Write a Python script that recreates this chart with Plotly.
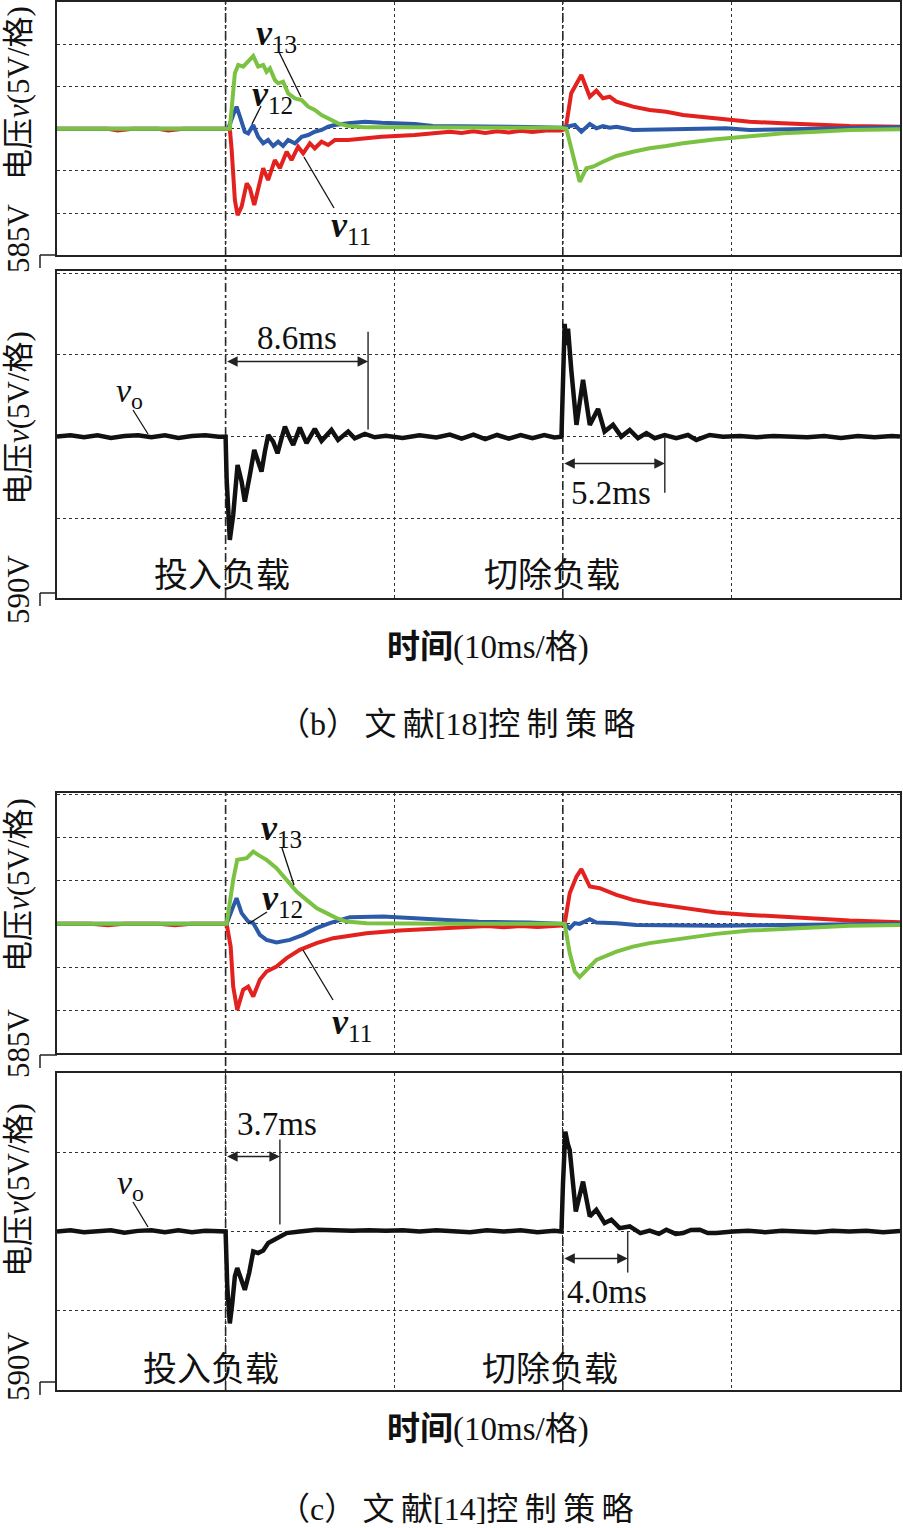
import plotly.graph_objects as go

W, H = 903, 1528
SERIF = "Liberation Serif, Noto Sans CJK SC, serif"
RED, BLUE, GREEN, BLACK = "#e3211f", "#2c5aa8", "#7cc242", "#111111"

# ---------------- (b) 文献[18] : time in ms, voltage deviation in V ----------------
b_t_v11 = [0, 1.5, 3.0, 3.6, 4.5, 6.0, 6.6, 7.5, 9.0, 10.0, 10.25, 10.36, 10.55, 10.71, 10.95, 11.25, 11.44, 11.70,
           11.93, 12.23, 12.52, 12.92, 13.22, 13.62, 13.91, 14.30, 14.60, 15.00, 15.29, 15.69, 16.08, 16.48, 17.27,
           18.26, 19.25, 21.22, 22.29, 23.3, 24.0, 24.7, 25.4, 26.1, 26.8, 27.5, 28.2, 29.0, 29.9, 30.17, 30.5, 31.10,
           31.60, 31.99, 32.38, 32.78, 33.18, 34.16, 35.15, 36.14, 37.13, 39.10, 41.08, 43.05, 45.03, 47.0, 50.0]
b_v11 = [0, 0, 0, -0.2, 0, 0, -0.2, 0, 0, 0, 0, -2.52, -8.45, -10.23, -9.24, -6.47, -7.06, -9.04, -7.26, -4.69, -6.08,
         -3.71, -4.69, -2.73, -3.71, -2.13, -2.91, -1.73, -2.32, -1.54, -1.93, -1.34, -1.34, -1.14, -0.95, -0.75, -0.55,
         -0.35, -0.5, -0.3, -0.5, -0.3, -0.45, -0.25, -0.4, -0.2, -0.2, 0, 4.2, 6.36, 3.79, 4.50, 3.60, 3.79, 3.20, 2.61,
         2.22, 2.01, 1.62, 1.23, 0.83, 0.64, 0.44, 0.32, 0.24]

b_t_v12 = [0, 3, 6, 9, 10.0, 10.15, 10.45, 10.65, 10.85, 11.14, 11.34, 11.64, 11.93, 12.23, 12.52, 12.82, 13.12, 13.41,
           13.71, 14.11, 14.51, 14.90, 15.29, 15.69, 16.08, 16.48, 17.27, 18.26, 19.25, 21.22, 22.29, 24.0, 26.0, 28.0,
           29.9, 30.29, 30.71, 31.10, 31.60, 31.99, 32.38, 32.78, 33.18, 34.16, 37.13, 39.70, 41.08, 47.0, 50.0]
b_v12 = [0, 0, 0, 0, 0, 0, 1.61, 2.61, 1.42, -0.36, -0.55, 0.44, -0.95, -1.73, -1.34, -2.05, -1.54, -2.05, -1.34, -1.73,
         -0.95, -0.75, -0.36, -0.15, 0.24, 0.44, 0.64, 0.83, 0.71, 0.56, 0.32, 0.3, 0.25, 0.2, 0.1, 0.24, 0.44, -0.36,
         0.56, 0.05, 0.32, 0.12, 0.24, -0.15, -0.07, 0.05, -0.15, 0.05, 0.17]

b_t_v13 = [0, 3, 6, 9, 10.0, 10.25, 10.55, 10.75, 11.04, 11.34, 11.64, 11.93, 12.23, 12.43, 12.63, 12.92, 13.12, 13.41,
           13.71, 14.11, 14.51, 14.90, 15.29, 15.69, 16.08, 16.67, 17.27, 18.26, 21.22, 25.0, 29.9, 30.21, 31.0, 31.40,
           31.79, 32.38, 33.18, 34.16, 35.15, 36.14, 37.13, 39.10, 41.08, 43.05, 45.03, 47.0, 50.0]
b_v13 = [0, 0, 0, 0, 0, 0, 6.56, 7.55, 7.35, 7.94, 8.61, 7.35, 7.55, 6.75, 7.16, 5.77, 5.38, 5.57, 4.19, 3.60, 3.40,
         2.61, 2.22, 1.62, 1.23, 0.64, 0.32, 0.17, 0.17, 0.15, 0.1, 0, -6.28, -4.69, -4.50, -3.91, -3.23, -2.73, -2.32,
         -2.05, -1.73, -1.26, -0.86, -0.55, -0.36, -0.15, -0.07]

b_t_vo = [0, 0.8, 1.6, 2.4, 3.2, 4.0, 4.8, 5.6, 6.4, 7.2, 8.0, 8.8, 9.6,
          10.0, 10.06, 10.15, 10.25, 10.45, 10.71, 10.95, 11.14, 11.44, 11.70, 11.93, 12.13, 12.33, 12.53, 12.82, 13.08,
          13.32, 13.52, 13.81, 14.01, 14.40, 14.80, 15.29, 15.69, 16.28, 16.67, 17.27, 17.66, 18.26, 18.85,
          19.5, 20.5, 21.5, 22.5, 23.3, 24.0, 24.7, 25.4, 26.1, 26.8, 27.5, 28.2, 28.9, 29.5,
          29.92, 30.01, 30.11, 30.21, 30.31, 30.51, 30.81, 31.20, 31.60, 32.09, 32.48, 32.98, 33.47, 33.97, 34.46, 34.96,
          35.45, 36.04, 36.73, 37.42, 37.92, 38.71, 39.50,
          40.5, 41.5, 42.5, 43.5, 44.5, 45.5, 46.5, 47.5, 48.5, 49.5, 50.0]
b_vo = [0, 0.08, -0.04, 0.08, -0.08, 0.04, 0.08, -0.04, 0.08, -0.08, 0.04, 0.08, 0,
        0, -2.54, -4.79, -6.32, -4.79, -1.73, -2.75, -3.98, -2.34, -0.81, -1.53, -2.14, -0.92, 0.10, -0.31, -1.02,
        -0.10, 0.61, -0.10, -0.51, 0.55, -0.40, 0.47, -0.26, 0.41, -0.20, 0.31, -0.10, 0.17, -0.04,
        0.05, -0.08, 0.08, -0.05, 0.12, -0.12, 0.12, -0.15, 0.1, -0.12, 0.1, -0.1, 0.1, -0.05,
        0, 3.0, 6.9, 5.6, 6.6, 4.0, 0.72, 3.47, 0.72, 1.69, 0.31, 0.72, 0.0, 0.41, -0.10, 0.21, -0.10, 0.10, -0.10,
        0.10, -0.20, 0.10, 0,
        0.04, -0.04, 0.04, 0, -0.04, 0.04, -0.08, 0.04, -0.04, 0.04, 0]

# ---------------- (c) 文献[14] ----------------
c_t_v11 = [0, 2, 3, 4, 6, 7, 8, 10.0, 10.06, 10.30, 10.45, 10.69, 11.04, 11.34, 11.64, 12.03, 12.43, 13.02, 13.62, 14.40,
           15.39, 16.38, 18.36, 20.33, 23.30, 24.5, 25.5, 26.5, 27.5, 28.5, 29.9, 30.11, 30.41, 30.81, 31.10, 31.60,
           32.19, 33.18, 34.16, 35.15, 37.13, 39.10, 41.08, 43.05, 45.03, 47.0, 50.0]
c_v11 = [0, 0, -0.15, 0, 0, -0.15, 0, 0, 0, -2.63, -7.26, -9.95, -7.64, -7.26, -8.41, -6.48, -5.52, -4.94, -3.97, -3.01,
         -2.23, -1.66, -1.08, -0.78, -0.50, -0.35, -0.25, -0.4, -0.25, -0.35, -0.2, 0, 3.55, 5.47, 6.33, 4.32, 4.13,
         3.36, 2.78, 2.40, 1.82, 1.31, 1.04, 0.84, 0.66, 0.38, 0.20]

c_t_v12 = [0, 3, 6, 9, 10.0, 10.06, 10.45, 10.65, 10.95, 11.34, 11.64, 12.03, 12.43, 13.02, 13.81, 14.60, 15.39, 16.18,
           17.37, 19.34, 22.31, 25.0, 28.0, 29.9, 30.11, 30.41, 30.71, 31.0, 31.60, 31.99, 33.18, 34.36, 39.10, 43.05,
           50.0]
c_v12 = [0, 0, 0, 0, 0, 0, 2.0, 2.97, 1.24, 0.27, 0.08, -1.27, -1.85, -2.16, -1.85, -1.27, -0.50, 0.08, 0.78, 0.84,
         0.54, 0.25, 0.15, 0.1, 0, -0.5, 0.08, 0.0, 0.54, 0.15, 0.08, -0.12, -0.23, -0.12, 0]

c_t_v13 = [0, 3, 6, 9, 10.0, 10.06, 10.45, 10.69, 11.25, 11.64, 11.93, 12.43, 13.02, 13.62, 14.21, 14.80, 15.39, 15.99,
           16.58, 17.17, 18.36, 23.30, 29.9, 30.11, 30.41, 30.71, 31.0, 31.40, 31.99, 33.18, 34.16, 35.15, 37.13, 39.10,
           41.08, 43.05, 45.03, 47.0, 50.0]
c_v13 = [0, 0, 0, 0, 0, 0, 5.09, 7.41, 7.60, 8.37, 7.99, 7.41, 6.45, 5.09, 3.74, 2.78, 1.82, 1.24, 0.66, 0.27, 0.08, 0,
         0, 0, -3.39, -5.52, -6.17, -5.32, -4.17, -3.21, -2.63, -2.23, -1.66, -1.16, -0.78, -0.61, -0.43, -0.23, -0.12]

c_t_vo = [0, 0.8, 1.6, 2.4, 3.2, 4.0, 4.8, 5.6, 6.4, 7.2, 8.0, 8.8, 9.6,
          10.0, 10.1, 10.25, 10.4, 10.55, 10.69, 10.9, 11.14, 11.4, 11.64, 11.93, 12.23, 12.53, 13.02, 13.62, 14.40,
          15.39,
          16.5, 17.5, 18.5, 19.5, 20.5, 21.5, 22.5, 23.5, 24.5, 25.5, 26.5, 27.5, 28.5, 29.5,
          29.92, 30.01, 30.15, 30.3, 30.41, 30.77, 31.20, 31.60, 31.99, 32.48, 32.88, 33.37, 33.97, 34.6, 35.15, 35.7,
          36.14, 36.7, 37.13, 37.6, 38.12, 38.6, 39.10, 40.09,
          41.0, 42.0, 43.0, 44.0, 45.0, 46.0, 47.0, 48.0, 49.0, 50.0]
c_vo = [0, 0.08, -0.04, 0.04, 0.08, -0.08, 0.04, 0.08, -0.04, 0.08, -0.04, 0.04, 0,
        0, -3.5, -5.8, -4.5, -2.84, -2.31, -3.0, -3.68, -2.6, -1.26, -1.36, -1.2, -0.73, -0.42, -0.10, 0.0, 0.11,
        0.08, 0.04, 0.08, 0.04, 0.08, 0, 0.08, 0.04, -0.04, 0.08, 0, 0.08, -0.04, 0.04,
        0, 3.0, 6.3, 5.5, 5.15, 1.26, 3.15, 0.95, 1.37, 0.53, 0.74, 0.21, 0.32, -0.1, 0.06, -0.15, 0.11, -0.15, -0.10,
        0.1, 0.11, -0.1, -0.10, 0,
        0.04, -0.04, 0.04, 0, -0.04, 0.04, 0, 0.04, -0.04, 0.04]

# settling-time markers (ms)
b_on_settle, b_off_settle = 18.45, 36.05
c_on_settle, c_off_settle = 13.22, 33.85
t_on, t_off = 10.0, 30.0

for a, b in [(b_t_v11, b_v11), (b_t_v12, b_v12), (b_t_v13, b_v13), (b_t_vo, b_vo),
             (c_t_v11, c_v11), (c_t_v12, c_v12), (c_t_v13, c_v13), (c_t_vo, c_vo)]:
    assert len(a) == len(b), (len(a), len(b))


def X(px):
    return px / W


def Y(py):
    return 1 - py / H


fig = go.Figure()

panels = [("x", "y", 2, 255, [-14.96, 15.01]),
          ("x2", "y2", 271, 598, [-9.87, 10.13]),
          ("x3", "y3", 793, 1053, [-14.95, 15.15]),
          ("x4", "y4", 1073, 1390, [-10, 10])]

common = dict(showgrid=True, griddash="dot", gridcolor="#333", gridwidth=1.2, zeroline=False,
              showline=True, mirror=True, linecolor="#222", linewidth=1.5, showticklabels=False,
              ticks="", fixedrange=True)
layout_axes = {}
for xa, ya, top, bot, yr in panels:
    xk = "xaxis" + xa[1:]
    yk = "yaxis" + ya[1:]
    layout_axes[xk] = dict(domain=[X(57), X(900)], range=[0, 50], dtick=10, tick0=0, anchor=ya, **common)
    layout_axes[yk] = dict(domain=[Y(bot), Y(top)], range=yr, dtick=5, tick0=0, anchor=xa, **common)


def add(t, v, color, xa, ya, w=4):
    fig.add_trace(go.Scatter(x=t, y=v, mode="lines", line=dict(color=color, width=w),
                             xaxis=xa, yaxis=ya, showlegend=False, hoverinfo="skip"))


add(b_t_v11, b_v11, RED, "x", "y")
add(b_t_v12, b_v12, BLUE, "x", "y")
add(b_t_v13, b_v13, GREEN, "x", "y")
add(b_t_vo, b_vo, BLACK, "x2", "y2", 4.5)
add(c_t_v11, c_v11, RED, "x3", "y3")
add(c_t_v12, c_v12, BLUE, "x3", "y3")
add(c_t_v13, c_v13, GREEN, "x3", "y3")
add(c_t_vo, c_vo, BLACK, "x4", "y4", 4.5)

shapes = []
# load-step trigger lines
for xa, top, bot in [("x", 0, 598), ("x3", 793, 1390)]:
    for t in (t_on, t_off):
        shapes.append(dict(type="line", xref=xa, yref="paper", x0=t, x1=t, y0=Y(bot), y1=Y(top),
                           line=dict(color="#222", width=1.6, dash="dashdot"), layer="below"))

# settling markers (vertical bars)
for xa, ya, x, y0, y1 in [("x2", "y2", b_on_settle, 0.43, 6.42), ("x2", "y2", b_off_settle, -3.43, 0),
                          ("x4", "y4", c_on_settle, 0.44, 5.8), ("x4", "y4", c_off_settle, -2.59, 0)]:
    shapes.append(dict(type="line", xref=xa, yref=ya, x0=x, x1=x, y0=y0, y1=y1,
                       line=dict(color="#333", width=1.5)))

# leader lines for labels (pixel positions)
for x0, y0, x1, y1 in [(279, 52, 301, 97), (261, 106, 252, 124), (334, 208, 304, 157),
                       (282, 848, 294, 885), (267, 912, 248, 924), (333, 1000, 303, 950),
                       (133, 410, 148, 434), (133, 1202, 148, 1227)]:
    shapes.append(dict(type="line", xref="paper", yref="paper", x0=X(x0), y0=Y(y0), x1=X(x1), y1=Y(y1),
                       line=dict(color="#111", width=1.3)))

# ground-level brackets
for yb in [255, 593, 1055, 1382]:
    shapes.append(dict(type="line", xref="paper", yref="paper", x0=X(40), x1=X(57), y0=Y(yb), y1=Y(yb),
                       line=dict(color="#222", width=1.5)))
    shapes.append(dict(type="line", xref="paper", yref="paper", x0=X(40), x1=X(40), y0=Y(yb), y1=Y(yb + 13),
                       line=dict(color="#222", width=1.5)))

ann = []
# double-headed interval arrows
for xa, ya, x0, x1, y in [("x2", "y2", t_on, b_on_settle, 4.59), ("x2", "y2", t_off, b_off_settle, -1.65),
                          ("x4", "y4", t_on, c_on_settle, 4.73), ("x4", "y4", t_off, c_off_settle, -1.70)]:
    ann.append(dict(xref=xa, yref=ya, axref=xa, ayref=ya, x=x1, y=y, ax=x0, ay=y, text="", showarrow=True,
                    arrowhead=2, startarrowhead=2, arrowside="end+start", arrowsize=1.4, startarrowsize=1.4,
                    arrowwidth=1.5, arrowcolor="#222"))


def txt(text, xp, yp, size, xanchor="center", angle=0):
    ann.append(dict(xref="paper", yref="paper", x=X(xp), y=Y(yp), text=text, showarrow=False,
                    xanchor=xanchor, yanchor="middle", textangle=angle,
                    font=dict(family=SERIF, size=size, color="#111")))


VL = 36
txt("<b><i>v</i></b><sub>13</sub>", 254, 36, VL, "left")
txt("<b><i>v</i></b><sub>12</sub>", 250, 97, VL, "left")
txt("<b><i>v</i></b><sub>11</sub>", 329, 227, VL, "left")
txt("<b><i>v</i></b><sub>13</sub>", 259, 830, VL, "left")
txt("<b><i>v</i></b><sub>12</sub>", 260, 901, VL, "left")
txt("<b><i>v</i></b><sub>11</sub>", 330, 1024, VL, "left")
txt("<i>v</i><sub>o</sub>", 114, 393, 34, "left")
txt("<i>v</i><sub>o</sub>", 115, 1185, 34, "left")

txt("8.6ms", 297, 338, 33)
txt("5.2ms", 611, 493, 33)
txt("3.7ms", 277, 1124, 33)
txt("4.0ms", 607, 1292, 33)

txt("投入负载", 222, 575, 34)
txt("切除负载", 552, 575, 34)
txt("投入负载", 211, 1369, 34)
txt("切除负载", 550, 1369, 34)

txt("<b>时间</b>(10ms/格)", 488, 648, 33)
txt("<b>时间</b>(10ms/格)", 488, 1429, 33)
TS = "\u2009"
txt("（b）" + TS + "文" + TS + "献[18]控" + TS + "制" + TS + "策" + TS + "略", 456, 724, 32)
txt("（c）" + TS + "文" + TS + "献[14]控" + TS + "制" + TS + "策" + TS + "略", 456, 1509, 32)

for yc, ys, s in [(93, 238, "585V"), (418, 589, "590V"), (885, 1043, "585V"), (1190, 1366, "590V")]:
    txt("电压<i>v</i>(5V/格)", 18, yc, 31, "center", -90)
    txt(s, 18, ys, 31, "center", -90)

fig.update_layout(width=W, height=H, margin=dict(l=0, r=0, t=0, b=0), paper_bgcolor="white",
                  plot_bgcolor="white", showlegend=False, shapes=shapes, annotations=ann, **layout_axes)

fig.write_html("out.html")
